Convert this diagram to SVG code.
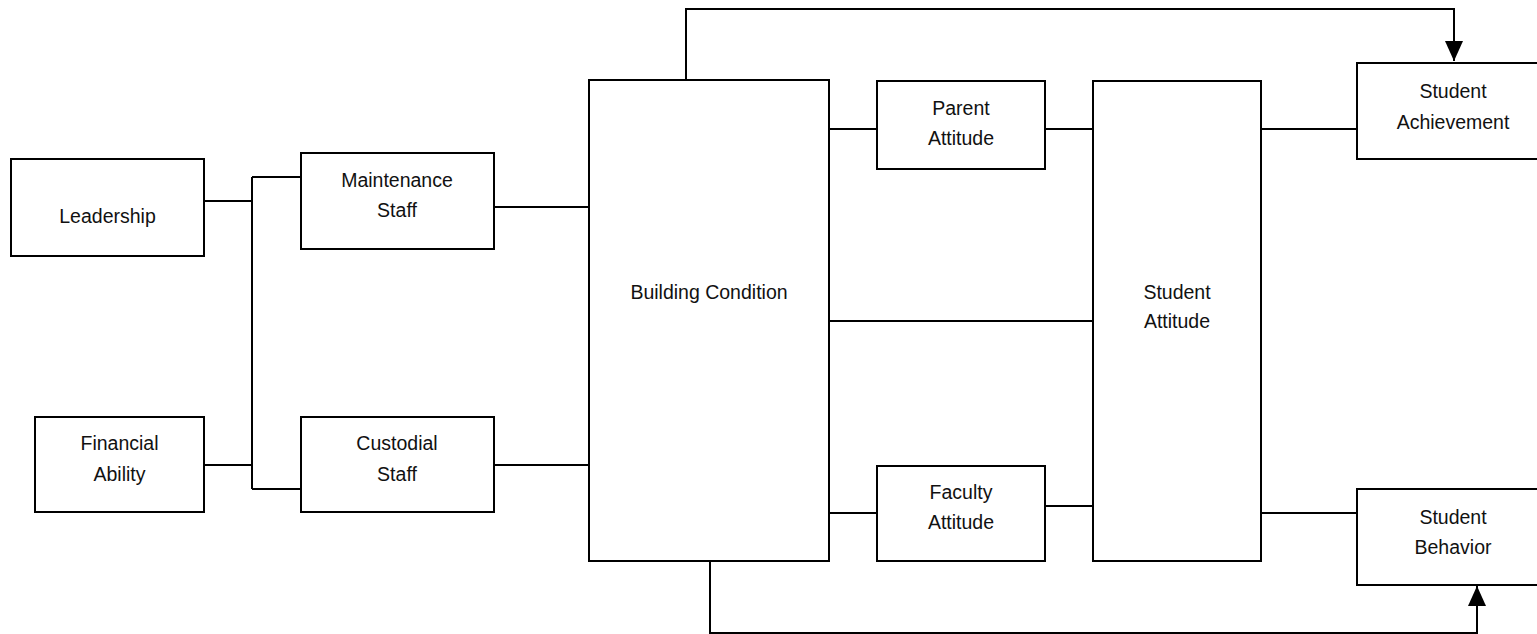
<svg xmlns="http://www.w3.org/2000/svg" width="1537" height="634" viewBox="0 0 1537 634">
<style>
.box{fill:#fff;stroke:#000;stroke-width:2}
.lbl{font-family:"Liberation Sans",Arial,sans-serif;font-size:19.5px;fill:#111;text-anchor:middle}
.con{fill:none;stroke:#000;stroke-width:2}
</style>
<defs>
<marker id="arr" markerUnits="userSpaceOnUse" markerWidth="20" markerHeight="24" refX="20" refY="9" orient="auto">
<path d="M0,0 L20,9 L0,18 Z" fill="#000"/>
</marker>
</defs>
<rect width="1537" height="634" fill="#fff"/>
<g id="connectors">
<path class="con" d="M204,201 H252 M252,177 V489 M252,177 H301 M204,465 H252 M252,489 H301"/>
<path class="con" d="M494,207 H589 M494,465 H589"/>
<path class="con" d="M829,129 H877 M1045,129 H1093 M829,321 H1093 M829,513 H877 M1045,506 H1093"/>
<path class="con" d="M1261,129 H1357 M1261,513 H1357"/>
<path class="con" d="M686,80 V9 H1454 V61" marker-end="url(#arr)"/>
<path class="con" d="M710,561 V633 H1477 V586" marker-end="url(#arr)"/>
</g>
<g id="leadership"><rect class="box" x="11" y="159" width="193" height="97"/><text class="lbl" x="107.5" y="223">Leadership</text></g>
<g id="financial"><rect class="box" x="35" y="417" width="169" height="95"/><text class="lbl" x="119.5" y="450">Financial<tspan x="119.5" dy="30.5">Ability</tspan></text></g>
<g id="maintenance"><rect class="box" x="301" y="153" width="193" height="96"/><text class="lbl" x="397" y="186.5">Maintenance<tspan x="397" dy="30">Staff</tspan></text></g>
<g id="custodial"><rect class="box" x="301" y="417" width="193" height="95"/><text class="lbl" x="397" y="450">Custodial<tspan x="397" dy="30.5">Staff</tspan></text></g>
<g id="building"><rect class="box" x="589" y="80" width="240" height="481"/><text class="lbl" x="709" y="299">Building Condition</text></g>
<g id="parent"><rect class="box" x="877" y="81" width="168" height="88"/><text class="lbl" x="961" y="114.5">Parent<tspan x="961" dy="30">Attitude</tspan></text></g>
<g id="faculty"><rect class="box" x="877" y="466" width="168" height="95"/><text class="lbl" x="961" y="499">Faculty<tspan x="961" dy="30">Attitude</tspan></text></g>
<g id="studentattitude"><rect class="box" x="1093" y="81" width="168" height="480"/><text class="lbl" x="1177" y="299">Student<tspan x="1177" dy="29">Attitude</tspan></text></g>
<g id="achievement"><rect class="box" x="1357" y="63" width="192" height="96"/><text class="lbl" x="1453" y="98">Student<tspan x="1453" dy="31">Achievement</tspan></text></g>
<g id="behavior"><rect class="box" x="1357" y="489" width="192" height="96"/><text class="lbl" x="1453" y="524">Student<tspan x="1453" dy="30">Behavior</tspan></text></g>
</svg>
